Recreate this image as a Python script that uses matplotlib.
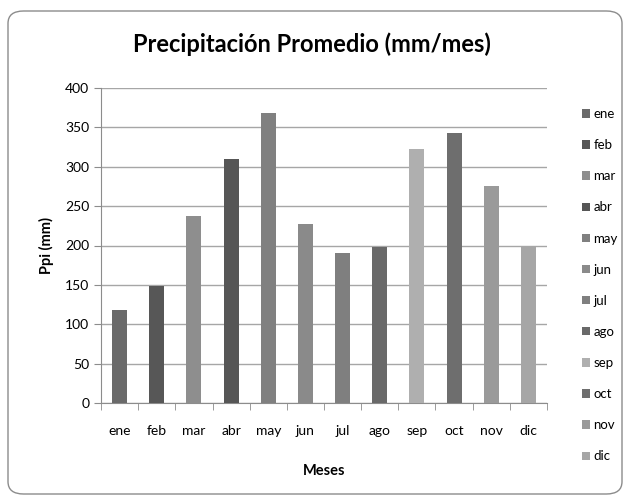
import matplotlib
matplotlib.use("Agg")
import matplotlib.pyplot as plt
from matplotlib.patches import Patch, FancyBboxPatch

# ——— 数据 ———
meses = ["ene", "feb", "mar", "abr", "may", "jun", "jul", "ago", "sep", "oct", "nov", "dic"]
ppi = [118, 148, 237, 310, 368, 227, 191, 198, 323, 343, 275, 200]
colores = ["#6a6a6a", "#575757", "#8e8e8e", "#565656", "#808080", "#8a8a8a",
           "#7f7f7f", "#696969", "#afafaf", "#6e6e6e", "#9a9a9a", "#a6a6a6"]

plt.rcParams['font.family'] = ['Lato', 'DejaVu Sans']

fig = plt.figure(figsize=(6.24, 4.96), dpi=100)

# marco redondeado tipo Excel
marco = FancyBboxPatch((8 / 624, 2 / 496), 614 / 624, 483 / 496,
                       boxstyle="round,pad=0,rounding_size=0.025",
                       transform=fig.transFigure, facecolor="white",
                       edgecolor="#8c8c8c", linewidth=1.0, zorder=-1)
fig.patches.append(marco)

ax = fig.add_axes([101 / 624, 93 / 496, 446 / 624, 315 / 496])
x = list(range(len(meses)))
ax.bar(x, ppi, width=0.4, color=colores, zorder=3)

ax.set_xlim(-0.5, len(meses) - 0.5)
ax.set_ylim(0, 400)
ax.set_yticks(range(0, 401, 50))
ax.set_xticks(x)
ax.set_xticklabels(meses, fontsize=10)
ax.set_xticks([i - 0.5 for i in range(len(meses) + 1)], minor=True)
ax.tick_params(axis='x', which='major', length=0, pad=16)
ax.tick_params(axis='x', which='minor', length=5, color="#8c8c8c")
ax.tick_params(axis='y', length=5, color="#8c8c8c", labelsize=10)

ax.grid(axis='y', color="#a6a6a6", linewidth=1.0, zorder=0)
for s in ["top", "right"]:
    ax.spines[s].set_visible(False)
for s in ["left", "bottom"]:
    ax.spines[s].set_color("#8c8c8c")

ax.set_ylabel("Ppi (mm)", fontsize=10.5, fontweight='bold', labelpad=8)
ax.set_xlabel("Meses", fontsize=10.5, fontweight='bold', labelpad=19)
fig.suptitle("Precipitación Promedio (mm/mes)", fontsize=17, fontweight='bold', x=0.5, y=0.935)

handles = [Patch(facecolor=c, edgecolor='none') for c in colores]
fig.legend(handles, meses, loc='upper left', bbox_to_anchor=(582 / 624, 1 - 108 / 496),
           frameon=False, fontsize=9.5, handlelength=0.6, handleheight=0.6,
           handletextpad=0.25, labelspacing=1.45, borderaxespad=0, borderpad=0)

fig.savefig("out.png", dpi=100)
